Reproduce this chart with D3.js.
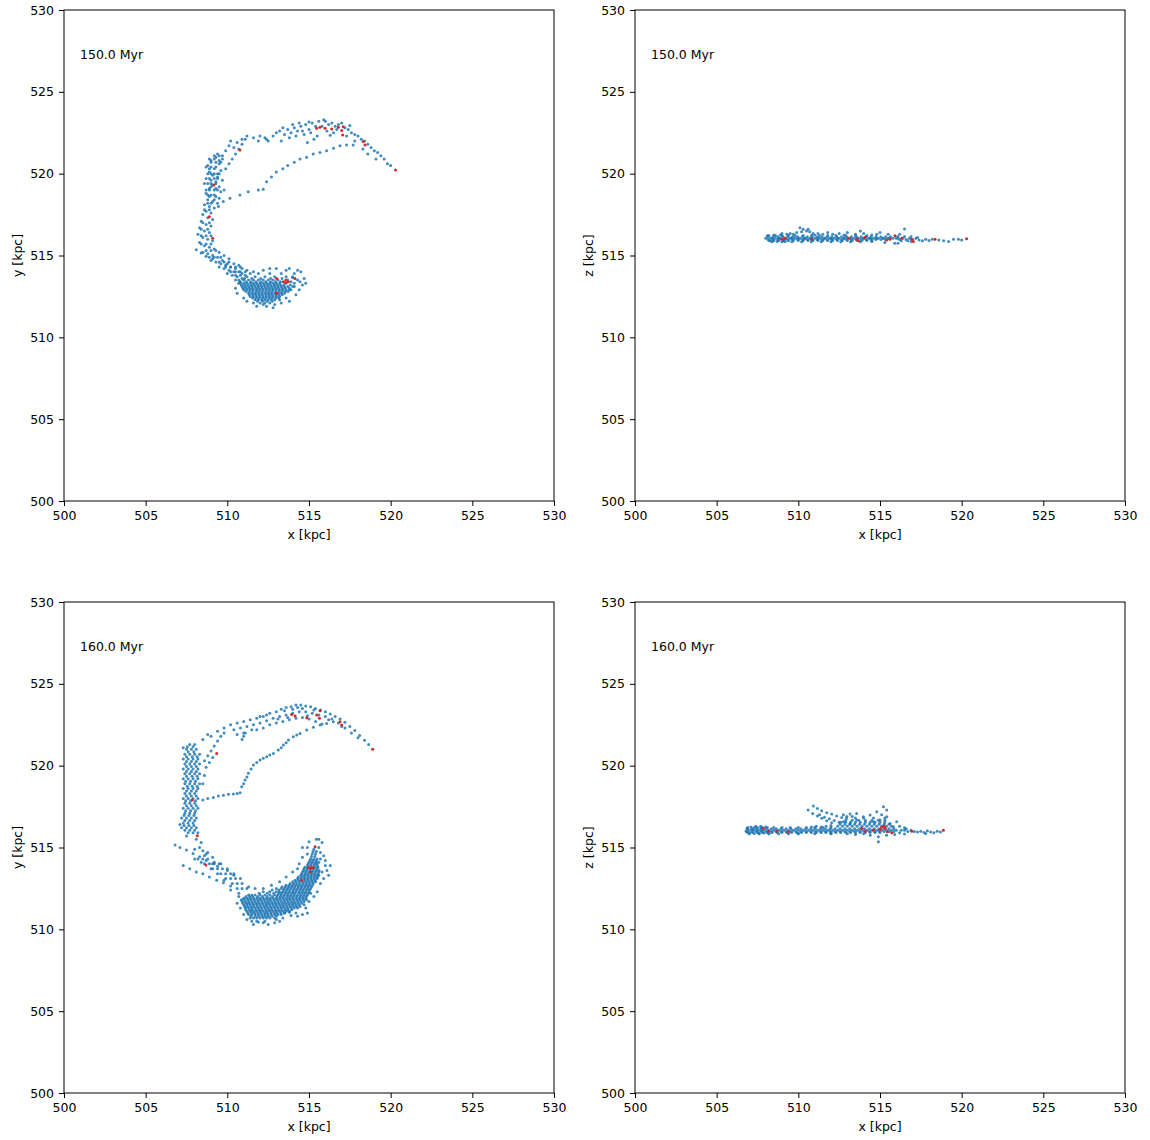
<!DOCTYPE html>
<html><head><meta charset="utf-8">
<script src="https://cdn.jsdelivr.net/npm/d3@7"></script>
<style>body{margin:0;background:#fff;} text{font-family:"DejaVu Sans",sans-serif;}</style>
</head><body><svg id="c" width="1150" height="1140"></svg>
<script>
const xTicks=[500,505,510,515,520,525,530];
const yTicks=[500,505,510,515,520,525,530];
const timeLabels=["150.0 Myr","160.0 Myr"];
const xLabel="x [kpc]";
const yLabels=["y [kpc]","z [kpc]"];

// ---------- 150 Myr, x-y (individual particles) ----------
const blueXY150=[
[509.3,521.0],[509.0,520.8],[509.5,520.6],[508.8,520.5],[509.2,520.3],[509.6,520.2],[508.9,520.1],[509.1,519.9],[509.4,519.8],[508.7,519.7],[509.0,519.6],[509.3,519.5],[509.7,519.6],[508.8,519.4],[509.1,519.3],[509.5,519.2],[508.9,519.1],[509.2,519.0],[509.6,518.9],[508.7,518.8],[509.0,518.7],[509.3,518.6],[508.8,518.4],[509.1,518.3],[509.4,518.2],[508.6,518.1],[508.9,518.0],[509.2,517.9],[508.7,517.7],[509.0,517.6],[508.5,517.5],[508.8,517.3],[509.1,517.2],[508.4,517.1],[508.7,516.9],[509.0,516.8],[508.3,516.7],[508.6,516.5],[508.9,516.4],[508.2,516.3],[508.5,516.1],[508.8,516.0],[509.1,515.9],[508.3,515.8],[508.6,515.6],[508.9,515.5],[509.2,515.4],[508.5,515.2],[508.8,515.1],[509.1,515.0],[509.4,514.9],[509.0,514.7],[509.3,514.6],[509.6,514.5],[509.9,514.4],[509.5,514.3],[509.8,514.2],[510.1,514.1],[510.4,514.0],[510.0,513.9],[510.3,513.8],[510.6,513.7],[510.9,513.6],[510.5,513.5],[510.8,513.4],
[509.4,521.2],[509.7,520.9],[508.9,520.3],[509.4,520.0],[509.0,519.2],[509.3,519.1],[509.5,518.5],[509.2,518.4],[508.9,518.6],[509.8,519.0],[509.9,520.3],[510.1,520.6],[510.3,520.9],[510.5,521.2],[510.7,521.5],[510.9,521.8],[511.1,522.1],
[508.1,515.35],[508.4,515.15],[508.7,514.95],[509.1,514.8],[509.7,514.7],[510.0,514.5],[510.2,514.3],[510.5,514.2],[510.7,514.0],[510.9,513.9],[511.1,513.8],[510.4,514.5],[510.7,514.4],[510.1,514.8],[509.8,515.0],[509.5,515.2],[510.9,514.2],[511.2,514.1],[511.4,513.9],
[509.5,520.8],[509.7,521.1],[509.9,521.4],[510.1,521.7],[510.2,522.0],[510.4,521.6],[510.6,521.9],[510.9,522.1],[511.2,522.3],[511.6,522.2],[512.0,522.3],[512.3,522.2],[512.5,522.0],[512.8,522.3],[513.0,522.5],[513.2,522.6],[513.5,522.4],[513.7,522.7],[513.9,522.5],[514.1,522.8],[514.3,522.6],[514.5,522.9],[514.6,522.6],[514.8,523.0],[515.0,522.7],[515.2,523.1],[515.4,522.9],[515.6,523.2],[515.8,522.9],[516.0,523.2],[516.2,523.0],[516.4,523.1],[516.6,522.9],[516.8,523.0],[517.0,523.1],[517.2,522.8],[517.4,522.7],[517.6,522.5],[517.8,522.4],[518.0,522.3],[518.2,522.1],[518.4,522.0],[518.6,521.8],[518.8,521.6],[519.0,521.4],[519.2,521.3],[519.4,521.1],[519.6,520.9],[519.8,520.6],[520.0,520.5],
[513.3,522.0],[513.8,522.2],[514.2,522.3],[514.7,522.4],[515.1,522.5],[515.5,522.3],[516.1,522.6],[516.5,522.5],[515.3,522.1],[514.9,521.9],[517.3,522.3],[517.8,522.0],[518.3,521.5],[518.6,521.2],[519.1,520.9],[512.4,522.1],[511.9,522.0],[515.9,523.3],[514.0,523.0],[513.4,522.8],[514.4,523.1],[515.0,523.15],[516.7,522.7],[517.5,522.95],[516.3,522.35],
[509.45,518.0],[509.75,518.3],[510.16,518.5],[510.77,518.7],[511.28,518.9],[511.9,519.0],[512.2,519.05],[512.4,519.5],[512.7,519.8],[513.0,520.1],[513.4,520.3],[513.7,520.5],[514.1,520.7],[514.45,520.9],[514.85,521.0],[515.26,521.2],[515.67,521.3],[516.08,521.4],[516.5,521.55],[516.9,521.7],[517.3,521.75],[517.7,521.75],
[513.6,514.1],[514.1,513.9],[514.3,514.1],[513.0,514.2],[512.6,514.2],[514.45,513.4],[514.6,513.2],[513.9,512.9],[514.1,513.1],[513.6,512.4],[513.2,512.3],[510.7,513.3],[512.2,512.0],
[510.5,513.0],[510.6,512.7],[511.0,512.4],[511.2,512.2],[511.6,512.1],[511.8,511.9],[512.4,511.9],[512.9,512.0],[513.3,512.1],[513.8,512.2],[514.2,512.6],[514.4,512.9],[514.7,513.6],[514.8,513.3],[514.0,513.65],[513.8,514.2],[512.2,514.1],[511.6,514.0],[514.5,514.0],[512.8,511.8]
];
// dense clump / column of 150 Myr, row by row: [y, x1, x2, ...]
const blueXY150Rows=[
[512.1,512.0,512.3,512.6],
[512.3,511.7,511.9,512.1,512.3,512.5,512.7,512.9],
[512.5,511.4,511.6,511.8,512.0,512.2,512.4,512.6,512.8,513.0,513.2],
[512.7,511.3,511.5,511.7,511.9,512.1,512.3,512.5,512.7,512.9,513.1,513.3,513.5],
[512.9,511.0,511.2,511.4,511.6,511.8,512.0,512.2,512.4,512.6,512.8,513.0,513.2,513.4,513.6,513.8],
[513.1,510.9,511.1,511.3,511.5,511.7,511.9,512.1,512.3,512.5,512.7,512.9,513.1,513.3,513.5,513.7,514.0],
[513.3,510.8,511.0,511.2,511.4,511.6,511.8,512.0,512.2,512.4,512.6,512.8,513.0,513.2,513.6,514.1],
[513.5,510.7,511.0,511.3,511.6,511.9,512.2,512.5,512.8,513.1,513.7,514.3],
[513.7,511.2,511.7,512.3,512.9,513.6,514.0],
[513.9,511.9,512.6,513.3],
[512.2,511.85,512.16,512.45,512.75],
[512.4,511.55,511.76,511.95,512.16,512.35,512.56,512.74,512.96,513.14],
[512.6,511.35,511.56,511.74,511.95,512.14,512.36,512.55,512.74,512.96,513.15,513.36],
[512.8,511.14,511.35,511.55,511.76,511.94,512.15,512.36,512.55,512.74,512.95,513.16,513.35,513.55,513.72],
[513.0,510.96,511.15,511.35,511.54,511.76,511.95,512.14,512.35,512.55,512.76,512.95,513.14,513.36,513.55,513.8],
[513.2,510.86,511.05,511.25,511.46,511.65,511.86,512.05,512.26,512.45,512.64,512.86,513.05,513.25,513.45,513.85],
[513.4,510.76,511.15,511.45,511.75,512.05,512.35,512.65,512.95,513.25,513.9],
[513.6,511.05,511.5,512.05,512.65,513.35],
[521.1,509.2,509.5],[520.9,508.9,509.2],[520.7,509.0,509.3,509.6],[520.4,508.7,509.0,509.3],
[520.0,508.8,509.0,509.2,509.5],[519.7,508.9,509.2,509.4],[519.4,508.6,509.0,509.3],[519.0,508.7,508.9,509.4],
[518.7,508.8,509.2],[518.2,508.8,509.0],[517.8,508.6,508.9],[517.0,508.5,508.9],[516.6,508.4,508.8],
[516.2,508.4,508.7,509.0],[515.7,508.4,508.7,509.0],[515.3,508.7,509.0,509.3],[514.9,508.9,509.2,509.6],
[514.6,509.5,509.8,510.1],[514.3,509.9,510.2,510.5,510.8],[514.0,510.2,510.5,510.8,511.1],[513.8,510.5,510.8]
];
const redXY150=[[510.77,521.45],[509.18,519.31],[508.9,517.37],[509.1,516.05],[515.47,522.77],[515.67,522.83],[515.98,522.77],[516.39,522.73],[516.8,522.83],[517.1,522.87],[517.0,522.63],[517.06,522.36],[518.32,521.96],[518.43,521.75],[520.3,520.22],[513.02,513.6],[513.43,513.4],[513.59,513.5],[513.73,513.4],[514.14,513.6],[513.02,512.7],[513.55,513.35]];

// ---------- 150 Myr, x-z ----------
const blueXZ150=[
[508.0,516.05],[508.4,516.05],[508.8,516.05],[509.2,516.05],[509.6,516.05],[510.0,516.05],[510.4,516.05],[510.8,516.05],[511.2,516.05],[511.6,516.05],[512.0,516.05],[512.4,516.05],[512.8,516.05],[513.2,516.05],[513.6,516.05],[514.0,516.05],[514.4,516.05],[514.8,516.05],[515.2,516.05],[515.6,516.05],[516.0,516.05],[516.4,516.05],[516.8,516.05],[517.2,516.05],
[516.1,516.16],[516.3,515.9],[516.5,516.16],[516.7,515.9],[516.9,516.16],[516.2,515.97],[516.6,515.97],[517.0,515.97],
[517.4,515.95],[517.6,515.9],[517.8,516.0],[518.0,515.92],[518.2,516.0],[518.6,515.95],[518.9,515.9],[519.2,515.85],[519.5,516.0],[519.8,516.0],[520.0,515.95],[516.9,515.85],[517.3,516.1],
[509.9,516.4],[510.1,516.7],[510.3,516.6],[510.5,516.5],[510.7,516.45],[510.9,516.35],[510.2,516.45],[510.6,516.6],[511.2,516.35],[511.5,516.3],[511.8,516.4],[512.1,516.3],[512.5,516.35],[513.0,516.4],[513.5,516.3],[514.0,516.35],[514.5,516.25],[514.8,516.3],[515.5,516.3],[516.5,516.62],[516.2,516.3],[515.0,516.4],[513.8,516.5],[512.8,516.25],[511.0,516.25],[509.7,516.3],[509.5,516.35],
[515.9,515.75],[515.3,515.8],[516.1,515.75],[514.5,515.85],[509.2,515.85],
[508.1,516.2],[508.3,515.88],[508.5,516.25],[508.7,515.85],[508.9,516.25],[509.1,515.88],[509.3,516.3],[509.0,516.35]
];
const blueXZ150Rows=[
[516.22,508.2,508.6,509.0,509.4,509.8,510.3,510.8,511.3,511.8,512.3,512.9,513.5,514.2],
[516.14,508.15,508.45,508.75,509.05,509.35,509.65,509.95,510.25,510.55,510.85,511.15,511.45,511.75,512.05,512.35,512.65,512.95,513.25,513.55,513.85,514.15,514.45,514.75,515.05,515.35,515.65],
[516.06,508.3,508.6,508.9,509.2,509.5,509.8,510.1,510.4,510.7,511.0,511.3,511.6,511.9,512.2,512.5,512.8,513.1,513.4,513.7,514.0,514.3,514.6,514.9,515.2,515.5,515.8,516.1],
[515.98,508.15,508.45,508.75,509.05,509.35,509.65,509.95,510.25,510.55,510.85,511.15,511.45,511.75,512.05,512.35,512.65,512.95,513.25,513.55,513.85,514.15,514.45,514.75,515.05,515.35],
[515.91,508.2,508.5,508.8,509.1,509.4,509.7,510.0,510.3,510.6,510.9,511.2,511.5,511.8,512.1,512.4,512.7,513.0,513.3,513.6,513.9,514.2,514.5],
[515.84,508.4,509.0,509.6,510.2,510.8,511.4,512.0,512.6,513.2,513.8]
];
const redXZ150=[[508.98,516.0],[509.18,516.05],[510.8,516.0],[513.06,516.05],[513.57,516.0],[513.67,515.9],[514.08,516.11],[515.41,515.95],[515.61,516.0],[515.92,516.2],[516.33,516.05],[516.94,516.0],[517.04,515.85],[518.37,516.0],[520.3,516.03]];

// ---------- 160 Myr, x-y ----------
const blueXY160=[
[508.3,515.0],[508.5,514.8],[508.0,514.9],[508.7,514.6],[508.4,515.3],[508.1,515.5],[507.1,516.4],[507.5,515.7],[507.3,521.1],
[508.6,520.3],[508.8,520.6],[509.0,520.9],[509.2,521.2],[509.4,521.5],[509.6,521.8],[509.8,522.0],[508.9,520.2],[509.1,520.5],[508.5,521.6],[508.8,521.9],[508.6,519.4],[508.7,519.9],[508.5,518.9],
[509.0,521.8],[509.4,522.1],[509.8,522.3],[510.2,522.5],[510.6,522.6],[511.0,522.7],[511.4,522.8],[511.8,522.9],[512.2,523.0],[512.6,523.2],[513.0,523.3],[513.3,523.45],[513.6,523.55],[513.9,523.6],[514.2,523.7],[514.5,523.7],[514.8,523.65],[515.1,523.6],[515.4,523.5],[515.7,523.4],[516.0,523.3],[516.3,523.15],[516.6,523.0],[516.9,522.85],[517.2,522.65],[517.5,522.4],[517.8,522.15],[518.1,521.85],[518.4,521.55],[518.65,521.3],
[510.4,522.2],[510.8,522.3],[511.2,522.4],[511.6,522.5],[512.0,522.6],[512.4,522.75],[512.8,522.9],[513.2,523.0],[513.6,523.1],[514.0,523.2],[514.4,523.3],[514.8,523.3],[515.2,523.2],[515.6,523.1],[516.0,523.0],[516.4,522.85],[516.8,522.6],[517.2,522.3],[517.6,522.0],[518.0,521.7],
[511.8,522.2],[512.2,522.3],[512.6,522.5],[513.0,522.6],[513.4,522.7],[513.8,522.8],[514.2,522.9],[514.6,522.95],[515.0,522.85],[515.4,522.7],[515.8,522.55],[513.5,523.35],[514.0,523.45],[514.6,523.5],[512.0,523.0],[511.5,522.2],[511.0,522.0],[510.6,521.9],[510.9,521.6],[511.0,521.8],[511.1,522.0],[514.3,523.55],[513.1,522.85],[512.4,523.1],[515.3,523.4],[516.2,522.8],[517.0,522.4],[513.7,522.95],[514.9,523.05],
[508.5,517.9],[508.8,518.0],[509.14,518.06],[509.45,518.15],[509.76,518.2],[510.07,518.25],[510.37,518.27],[510.6,518.3],[510.78,518.35],[510.88,518.71],[511.0,518.9],[511.08,519.12],[511.2,519.3],[511.29,519.53],[511.45,519.8],[511.6,520.04],[511.8,520.2],[512.0,520.34],[512.2,520.45],[512.41,520.55],[512.6,520.65],[512.82,520.75],[513.12,520.96],[513.3,521.1],[513.43,521.26],[513.6,521.4],[513.74,521.57],[514.04,521.77],[514.25,521.87],[514.45,521.97],[514.86,522.18],[515.27,522.34],[515.68,522.48],[516.08,522.58],[516.49,522.69],
[506.8,515.15],[507.1,515.0],[507.5,514.85],[507.9,514.64],[508.3,514.44],[508.7,514.2],[509.1,514.0],
[507.3,513.9],[507.7,513.7],[508.1,513.5],[508.5,513.4],[508.9,513.2],[509.35,513.0],[509.76,512.85],[510.2,512.65],
[509.2,514.1],[509.4,513.85],[509.0,513.7],[509.4,513.4],[509.8,513.0],[510.2,512.4],[510.7,512.2],[508.6,514.5],[508.8,514.7],[509.1,514.4],[508.4,514.1],[508.0,514.3],[509.6,514.0],[510.0,513.6],[510.4,513.3],
[512.2,510.4],[511.9,510.45],[513.2,510.5],[514.6,510.9],[514.8,511.3],[515.3,512.0],[512.5,510.3],[514.9,511.0],[514.3,510.8],[513.5,511.0],[513.8,511.05],
[515.6,513.3],[515.8,513.5],[516.1,513.6],[516.2,513.3],[515.7,514.3],[516.0,514.2],[515.6,514.1],[515.7,514.7],[515.6,515.0],[514.9,515.0],[515.8,515.3],[515.45,515.5],[514.9,514.6],
[510.6,511.6],[510.7,512.0],[510.8,511.3],[511.0,510.9],[511.2,510.6],[511.6,510.3],[512.9,510.4],[513.4,510.7],[513.9,510.85],[514.2,511.0],[514.7,511.5],[515.0,511.7],[515.1,512.2],[515.5,512.3],[515.7,512.8],[515.9,513.1],[516.0,513.9],[515.9,514.5],[516.3,513.9],[514.4,514.0],[514.3,513.7],[514.0,513.5],[513.6,513.2],[513.2,512.9],[512.7,512.7],[512.2,512.5],[511.7,512.5],[511.3,512.6],[514.6,514.4],[514.6,515.0],[515.0,515.35],[515.6,515.5],[513.0,510.6],[511.4,510.7]
];
const blueXY160Rows=[
[510.5,511.5,511.8,512.3],
[510.7,511.6,511.8,512.0,512.2,512.4,512.6,512.9],
[510.9,511.3,511.5,511.7,511.9,512.1,512.3,512.5,512.7,512.9,513.1,513.3],
[511.1,511.2,511.4,511.6,511.8,512.0,512.2,512.4,512.6,512.8,513.0,513.2,513.4,513.6,513.8],
[511.3,511.1,511.3,511.5,511.7,511.9,512.1,512.3,512.5,512.7,512.9,513.1,513.3,513.5,513.7,513.9,514.1,514.3],
[511.5,511.0,511.2,511.4,511.6,511.8,512.0,512.2,512.4,512.6,512.8,513.0,513.2,513.4,513.6,513.8,514.0,514.2,514.4],
[511.7,510.9,511.1,511.3,511.5,511.7,511.9,512.1,512.3,512.5,512.7,512.9,513.1,513.3,513.5,513.7,513.9,514.1,514.3,514.5,514.7],
[511.9,511.0,511.2,511.4,511.6,511.8,512.0,512.2,512.4,512.6,512.8,513.0,513.2,513.4,513.6,513.8,514.0,514.2,514.4,514.6,514.8],
[512.1,511.3,511.5,511.7,512.0,512.3,512.6,512.9,513.1,513.3,513.5,513.7,513.9,514.1,514.3,514.5,514.7,514.9],
[512.3,512.2,512.6,513.0,513.2,513.4,513.6,513.8,514.0,514.2,514.4,514.6,514.8,515.0],
[512.5,513.0,513.3,513.5,513.7,513.9,514.1,514.3,514.5,514.7,514.9,515.1],
[512.7,513.6,513.8,514.0,514.2,514.4,514.6,514.8,515.0,515.2],
[512.9,514.0,514.2,514.4,514.6,514.8,515.0,515.2,515.4],
[513.1,514.3,514.5,514.7,514.9,515.1,515.3,515.5],
[513.3,514.5,514.7,514.9,515.1,515.3,515.5],
[513.5,514.6,514.8,515.0,515.2,515.4,515.6],
[513.7,514.7,514.9,515.1,515.3,515.5],
[513.9,514.9,515.1,515.3,515.5],
[514.1,515.0,515.2,515.4],
[514.3,515.1,515.3,515.5],
[514.6,515.2,515.4],
[514.9,515.3],
[510.8,511.45,511.72,511.93,512.15,512.33,512.52,512.74,513.0],
[511.0,511.25,511.48,511.66,511.87,512.06,512.28,512.45,512.67,512.88,513.05,513.27,513.5],
[511.2,511.13,511.36,511.52,511.74,511.95,512.13,512.36,512.55,512.72,512.94,513.14,513.33,513.55,513.72,513.95],
[511.4,511.06,511.24,511.45,511.63,511.84,512.04,512.26,512.43,512.64,512.85,513.04,513.25,513.44,513.65,513.86,514.05,514.24,514.45],
[511.6,510.95,511.16,511.34,511.55,511.76,511.93,512.15,512.36,512.54,512.75,512.95,513.14,513.36,513.55,513.75,513.96,514.14,514.35,514.56],
[511.8,510.86,511.05,511.26,511.44,511.65,511.86,512.04,512.25,512.45,512.64,512.86,513.05,513.24,513.46,513.65,513.84,514.05,514.26,514.44,514.66,514.85],
[512.0,511.14,511.36,511.55,511.86,512.15,512.44,512.75,513.04,513.25,513.44,513.66,513.85,514.04,514.25,514.46,514.65,514.84],
[512.2,511.95,512.45,512.84,513.15,513.33,513.55,513.74,513.95,514.13,514.36,514.55,514.74,514.95],
[512.4,512.75,513.15,513.44,513.64,513.83,514.05,514.24,514.45,514.64,514.85,515.04],
[512.6,513.35,513.55,513.76,513.95,514.14,514.35,514.55,514.76,514.95,515.15],
[512.8,513.85,514.06,514.25,514.45,514.66,514.86,515.05,515.26],
[513.0,514.15,514.36,514.55,514.76,514.95,515.16,515.36],
[513.2,514.35,514.56,514.75,514.96,515.15,515.36,515.52],
[513.4,514.55,514.76,514.95,515.16,515.35,515.55],
[513.6,514.66,514.85,515.06,515.25,515.45,515.62],
[513.8,514.75,514.96,515.15,515.36,515.55],
[514.0,514.95,515.14,515.35,515.5],
[514.2,515.06,515.25,515.45],
[514.45,515.15,515.36],
[514.75,515.25,515.45],
[514.3,508.2,508.5,508.8],[514.0,508.6,508.9,509.2,509.5],[513.7,509.1,509.4,509.7,510.0],
[513.4,509.6,509.9,510.2,510.4],[513.1,509.9,510.2,510.5,510.8],[512.8,510.3,510.6,510.9],[512.5,510.6,510.9,511.2],
[521.3,507.7,508.0],[521.0,507.5,507.8,508.1],[520.7,507.4,507.7,508.0,508.3],[520.4,507.3,507.6,507.9,508.2],
[520.1,507.4,507.7,508.0,508.3],[519.8,507.3,507.6,507.9,508.2],[519.5,507.4,507.7,508.0,508.3],[519.2,507.3,507.6,507.9,508.2],
[518.9,507.4,507.7,508.0,508.3],[518.6,507.3,507.6,507.9,508.2],[518.3,507.4,507.7,508.0],[518.0,507.3,507.6,507.9,508.2],
[517.7,507.4,507.7,508.0],[517.4,507.3,507.6,507.9,508.2],[517.1,507.4,507.7,508.0],[516.8,507.2,507.5,507.8,508.1],
[516.5,507.3,507.6,507.9],[516.2,507.2,507.5,507.8,508.1],[515.9,507.6,507.9,508.2],
[521.15,507.55,507.9],[520.85,507.6,507.95],[520.55,507.5,507.85,508.15],[520.25,507.5,507.8,508.1],[519.95,507.5,507.8,508.1],
[519.65,507.5,507.8,508.1],[519.35,507.5,507.85,508.15],[519.05,507.45,507.75,508.05],[518.75,507.55,507.85,508.15],[518.45,507.5,507.8,508.1],
[518.15,507.5,507.8,508.1],[517.85,507.45,507.75,508.05],[517.55,507.5,507.8,508.1],[517.25,507.45,507.75,508.05],[516.95,507.35,507.65,507.95],
[516.65,507.4,507.7,508.0],[516.35,507.35,507.65,507.95],[516.05,507.4,507.7,508.0]
];
const redXY160=[[508.16,515.72],[508.69,513.93],[509.35,520.75],[507.86,517.9],[513.94,523.13],[514.15,523.03],[514.86,522.93],[515.47,523.09],[515.68,523.36],[515.64,522.89],[516.9,522.69],[517.0,522.48],[518.9,521.0],[515.37,515.05],[514.96,513.77],[515.1,513.77],[515.25,513.77],[515.1,513.5],[514.55,513.0]];

// ---------- 160 Myr, x-z ----------
const blueXZ160=[
[506.8,516.0],[506.9,516.15],[507.0,515.88],[507.1,516.25],[507.3,515.85],[507.4,516.3],[507.5,516.2],[507.6,515.85],[507.7,516.3],[507.8,516.2],[507.9,515.88],[508.0,516.25],[508.2,515.85],[507.2,516.1],[507.45,516.0],[507.75,516.05],
[516.5,516.05],[516.7,515.97],[516.9,516.05],[517.1,515.97],[516.2,515.9],[516.6,516.15],
[517.3,515.95],[517.5,516.0],[517.7,515.92],[517.9,516.02],[518.1,515.95],[518.3,515.9],[518.5,516.0],[518.7,515.95],[517.8,515.85],
[510.92,517.53],[511.17,517.39],[511.43,517.25],[511.74,517.13],[512.04,517.04],[512.35,516.92],[512.66,516.84],[512.96,516.78],
[510.6,517.29],[510.88,517.08],[511.17,516.92],[511.43,516.78],[511.74,516.64],[512.04,516.51],
[511.3,517.0],[511.6,516.85],[511.9,516.75],[512.2,516.65],[512.5,516.55],
[512.0,516.35],[511.7,516.3],[511.4,516.25],[511.1,516.3],[510.8,516.25],[513.17,517.04],[513.57,517.08],[513.98,516.88],[514.39,516.98],[514.8,517.19],[515.21,517.49],[515.41,517.29],[515.41,516.88],[514.6,516.58],[513.57,516.68],[513.17,516.47],[512.76,516.58],[515.0,516.68],[515.62,516.47],[516.02,516.58],[515.82,516.27],[512.76,517.0],[512.96,516.9],[513.3,516.9],[515.1,517.0],[516.2,516.3],[516.5,516.2],
[514.9,515.66],[514.9,515.35],[514.4,515.75],[515.4,515.75],[513.5,515.8],[515.9,515.8],[512.0,515.85],[510.0,515.85],[516.5,515.82]
];
const blueXZ160Rows=[
[516.22,506.9,507.3,507.7,508.1,508.5,509.0,509.5,510.0,510.5,511.0,511.5,512.0],
[516.14,506.85,507.15,507.45,507.75,508.05,508.35,508.65,508.95,509.25,509.55,509.85,510.15,510.45,510.75,511.05,511.35,511.65,511.95,512.25,512.55,512.85,513.15,513.45,513.75,514.05,514.35,514.65,514.95,515.25,515.55,515.85],
[516.06,507.0,507.3,507.6,507.9,508.2,508.5,508.8,509.1,509.4,509.7,510.0,510.3,510.6,510.9,511.2,511.5,511.8,512.1,512.4,512.7,513.0,513.3,513.6,513.9,514.2,514.5,514.8,515.1,515.4,515.7,516.0,516.3],
[515.98,506.85,507.15,507.45,507.75,508.05,508.35,508.65,508.95,509.25,509.55,509.85,510.15,510.45,510.75,511.05,511.35,511.65,511.95,512.25,512.55,512.85,513.15,513.45,513.75,514.05,514.35,514.65,514.95,515.25,515.55,515.85],
[515.91,506.9,507.2,507.5,507.8,508.1,508.4,508.7,509.0,509.3,509.6,509.9,510.2,510.5,510.8,511.1,511.4,511.7,512.0,512.3,512.6,512.9,513.2,513.5,513.8,514.1,514.4,514.7,515.0],
[515.84,507.0,507.6,508.2,508.8,509.4,510.0,511.0,512.0,513.0,514.0],
[516.3,512.4,512.7,513.0,513.3,513.6,513.9,514.2,514.5,514.8,515.1,515.4,515.7],
[516.42,512.55,512.85,513.15,513.45,513.75,514.05,514.35,514.65,514.95,515.25,515.55],
[516.54,512.6,512.9,513.2,513.5,513.8,514.1,514.4,514.7,515.0,515.3],
[516.66,512.9,513.3,513.7,514.1,514.5,514.9,515.3],
[516.8,513.5,514.0,514.6,515.3]
];
const redXZ160=[[507.86,516.17],[508.17,516.0],[508.68,516.0],[509.39,515.96],[513.88,516.17],[514.09,516.0],[514.6,516.07],[515.0,516.1],[515.1,516.23],[515.25,516.31],[515.31,516.17],[515.45,515.96],[515.72,515.9],[516.94,516.0],[518.88,516.05]];

// rows [y, x1, x2, ...] -> points [x, y]
const unrow=rows=>rows.flatMap(([yv,...xs])=>xs.map(xv=>[xv,yv]));

const panels=[
  {blue:blueXY150.concat(unrow(blueXY150Rows)), red:redXY150, yl:yLabels[0], t:timeLabels[0], x0:64,  y0:10},
  {blue:blueXZ150.concat(unrow(blueXZ150Rows)), red:redXZ150, yl:yLabels[1], t:timeLabels[0], x0:635, y0:10},
  {blue:blueXY160.concat(unrow(blueXY160Rows)), red:redXY160, yl:yLabels[0], t:timeLabels[1], x0:64,  y0:602},
  {blue:blueXZ160.concat(unrow(blueXZ160Rows)), red:redXZ160, yl:yLabels[1], t:timeLabels[1], x0:635, y0:602}
];
const W=490, H=491, FS=12.5;
const svg=d3.select("#c");
svg.append("rect").attr("width",1150).attr("height",1140).attr("fill","#fff");

panels.forEach((p,i)=>{
  const g=svg.append("g").attr("transform",`translate(${p.x0},${p.y0})`);
  const x=d3.scaleLinear().domain([500,530]).range([0,W]);
  const y=d3.scaleLinear().domain([500,530]).range([H,0]);
  g.append("clipPath").attr("id","cp"+i).append("rect").attr("width",W).attr("height",H);
  const pts=g.append("g").attr("clip-path",`url(#cp${i})`);
  pts.selectAll("circle.b").data(p.blue).join("circle").attr("class","b")
    .attr("cx",d=>x(d[0])).attr("cy",d=>y(d[1])).attr("r",1.5)
    .attr("fill","#1f77b4").attr("fill-opacity",0.85);
  pts.selectAll("circle.r").data(p.red).join("circle").attr("class","r")
    .attr("cx",d=>x(d[0])).attr("cy",d=>y(d[1])).attr("r",1.5)
    .attr("fill","#d62728");
  const ax=g.append("g").attr("transform",`translate(0,${H})`)
    .call(d3.axisBottom(x).tickValues(xTicks).tickFormat(d3.format("d")).tickSize(5).tickPadding(5).tickSizeOuter(0));
  const ay=g.append("g")
    .call(d3.axisLeft(y).tickValues(yTicks).tickFormat(d3.format("d")).tickSize(5).tickPadding(5).tickSizeOuter(0));
  [ax,ay].forEach(a=>{
    a.selectAll("text").attr("font-size",FS).attr("font-family","DejaVu Sans").attr("fill","#000");
    a.selectAll("line").attr("stroke","#000");
    a.select(".domain").remove();
  });
  g.append("rect").attr("x",0).attr("y",0).attr("width",W).attr("height",H)
    .attr("fill","none").attr("stroke","#000").attr("stroke-width",1);
  g.append("text").attr("x",W/2).attr("y",H+37.5).attr("text-anchor","middle")
    .attr("font-size",FS).text(xLabel);
  g.append("text").attr("transform",`translate(${-42},${H/2}) rotate(-90)`).attr("text-anchor","middle")
    .attr("font-size",FS).text(p.yl);
  g.append("text").attr("x",16).attr("y",49).attr("font-size",FS).text(p.t);
});
</script></body></html>
